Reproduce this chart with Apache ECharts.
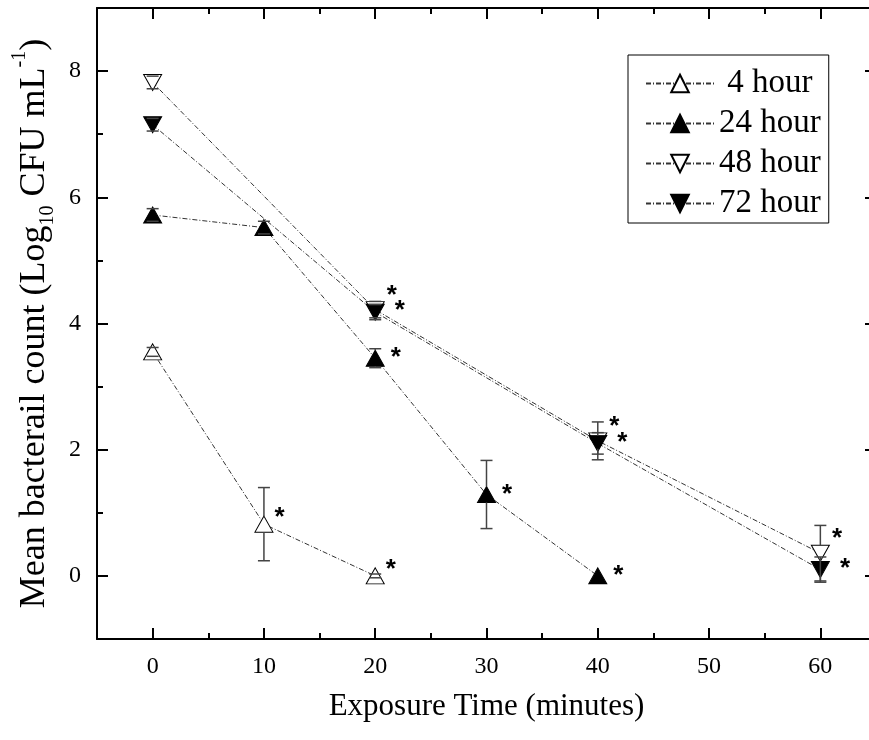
<!DOCTYPE html>
<html>
<head>
<meta charset="utf-8">
<script src="https://cdn.jsdelivr.net/npm/echarts@6/dist/echarts.min.js"></script>
<style>
  html, body { margin: 0; padding: 0; background: #fff; }
  #chart { width: 869px; height: 740px; }
</style>
</head>
<body>
<div id="chart"></div>
<script>
// data (log10 CFU/mL, mean and SD)
const seriesNames = ['4 hour', '24 hour', '48 hour', '72 hour']

const time4h = [0, 10, 20]
const mean4h = [3.55, 0.82, 0.0]
const sd4h = [0.07, 0.58, 0.03]
const sig4h = [false, true, true]

const time24h = [0, 10, 20, 30, 40]
const mean24h = [5.72, 5.52, 3.45, 1.29, 0.0]
const sd24h = [0.1, 0.1, 0.15, 0.54, 0.0]
const sig24h = [false, false, true, true, true]

const time48h = [0, 20, 40, 60]
const mean48h = [7.82, 4.22, 2.14, 0.36]
const sd48h = [0.1, 0.13, 0.3, 0.44]
const sig48h = [false, true, true, true]

const time72h = [0, 20, 40, 60]
const mean72h = [7.15, 4.18, 2.1, 0.1]
const sd72h = [0.1, 0.12, 0.17, 0.2]
const sig72h = [false, true, true, true]

const serif = '"Liberation Serif", "Times New Roman", serif'
const dashDot = [5, 2, 1, 2]
const triUp = 'triangle'
const triDown = 'path://M0,0 L2,0 L1,2 Z'

const renderErrorBar = (params, api) => {
    const x = api.value(0)
    const m = api.value(1)
    const s = api.value(2)
    if (!s) return null
    const c = api.coord([x, m])
    const top = api.coord([x, m + s])
    const bot = api.coord([x, m - s])
    const half = 6
    const gap = 8
    const style = { stroke: '#444', lineWidth: 1.5 }
    const children = [
        { type: 'line', shape: { x1: c[0] - half, y1: top[1], x2: c[0] + half, y2: top[1] }, style },
        { type: 'line', shape: { x1: c[0] - half, y1: bot[1], x2: c[0] + half, y2: bot[1] }, style },
    ]
    if (top[1] < c[1] - gap) {
        children.push({ type: 'line', shape: { x1: c[0], y1: top[1], x2: c[0], y2: c[1] - gap }, style })
    }
    if (bot[1] > c[1] + gap) {
        children.push({ type: 'line', shape: { x1: c[0], y1: c[1] + gap, x2: c[0], y2: bot[1] }, style })
    }
    return { type: 'group', children }
}

const lineSeries = (name, times, means, sig, symbol, fill, labelOffset) => ({
    name: name,
    type: 'line',
    xAxisIndex: 0,
    yAxisIndex: 0,
    data: times.map((t, i) => ({ value: [t, means[i]], label: { show: sig[i] } })),
    symbol: symbol,
    symbolSize: [18, 16],
    showAllSymbol: true,
    itemStyle: { color: fill, borderColor: '#000', borderWidth: 1 },
    lineStyle: { color: '#333', width: 1, type: dashDot },
    label: {
        show: false,
        position: 'right',
        distance: 0,
        offset: labelOffset,
        formatter: '*',
        fontFamily: '"Liberation Sans", Arial, sans-serif',
        fontWeight: 'bold',
        fontSize: 26,
        color: '#000'
    },
    emphasis: { disabled: true },
    z: 2
})

const errorSeries = (times, means, sds) => ({
    type: 'custom',
    xAxisIndex: 0,
    yAxisIndex: 0,
    silent: true,
    z: 3,
    data: times.map((t, i) => [t, means[i], sds[i]]),
    renderItem: renderErrorBar
})

const axisLine = { show: true, onZero: false, lineStyle: { color: '#000', width: 2 } }
const noLine = { show: false, onZero: false }
const tickStyle = { color: '#000', width: 2 }

const xAxisPart = (position, step, tickLen, extra) => Object.assign({
    type: 'value',
    position: position,
    gridIndex: 0,
    min: -5,
    max: 65,
    minInterval: step,
    maxInterval: step,
    axisLine: step === 5 ? noLine : axisLine,
    axisTick: { show: true, inside: true, length: tickLen, lineStyle: tickStyle },
    axisLabel: { show: false },
    splitLine: { show: false }
}, extra || {})

const yAxisPart = (position, step, tickLen, extra) => Object.assign({
    type: 'value',
    position: position,
    gridIndex: 0,
    min: -1,
    max: 9,
    minInterval: step,
    maxInterval: step,
    axisLine: step === 1 ? noLine : axisLine,
    axisTick: { show: true, inside: true, length: tickLen, lineStyle: tickStyle },
    axisLabel: { show: false },
    splitLine: { show: false }
}, extra || {})

const myChart = echarts.init(document.getElementById('chart'), null, { width: 869, height: 740 })

myChart.setOption({
    animation: false,
    backgroundColor: '#fff',
    // the right frame edge sits just past the picture edge, as in the original
    grid: { left: 97, top: 8, width: 779, height: 631, outerBoundsMode: 'none', containLabel: false },
    legend: {
        orient: 'vertical',
        left: 628,
        top: 55,
        padding: [12, 8, 3, 17],
        borderColor: '#000',
        borderWidth: 1,
        itemWidth: 68,
        itemHeight: 22,
        itemGap: 7,
        selectedMode: false,
        data: seriesNames,
        formatter: name => name.padStart(7, ' '),
        textStyle: {
            fontFamily: serif,
            fontSize: 33,
            color: '#000',
            lineHeight: 33
        }
    },
    xAxis: [
        xAxisPart('bottom', 10, 11, {
            axisLabel: {
                show: true,
                margin: 16,
                fontFamily: serif,
                fontSize: 24,
                color: '#000',
                formatter: v => (v % 10 === 0 ? String(v) : '')
            },
            name: 'Exposure Time (minutes)',
            nameLocation: 'middle',
            nameGap: 52,
            nameTextStyle: { fontFamily: serif, fontSize: 31, color: '#000' }
        }),
        xAxisPart('bottom', 5, 6),
        xAxisPart('top', 10, 11),
        xAxisPart('top', 5, 6)
    ],
    yAxis: [
        yAxisPart('left', 2, 11, {
            axisLabel: {
                show: true,
                margin: 16,
                fontFamily: serif,
                fontSize: 24,
                color: '#000',
                formatter: v => (v % 2 === 0 ? String(v) : '')
            },
            name: 'Mean bacterail count (Log{sub|10} CFU mL{sup|-1})',
            nameLocation: 'middle',
            nameGap: 34,
            nameTextStyle: {
                fontFamily: serif,
                fontSize: 36,
                color: '#000',
                lineHeight: 48,
                rich: {
                    sub: { fontFamily: serif, fontSize: 20, color: '#000', verticalAlign: 'bottom', lineHeight: 48 },
                    sup: { fontFamily: serif, fontSize: 20, color: '#000', verticalAlign: 'top', lineHeight: 48 }
                }
            }
        }),
        yAxisPart('left', 1, 6),
        yAxisPart('right', 2, 11),
        yAxisPart('right', 1, 6)
    ],
    series: [
        errorSeries(time4h, mean4h, sd4h),
        errorSeries(time24h, mean24h, sd24h),
        errorSeries(time48h, mean48h, sd48h),
        errorSeries(time72h, mean72h, sd72h),
        lineSeries(seriesNames[0], time4h, mean4h, sig4h, triUp, '#fff', [1, -6]),
        lineSeries(seriesNames[1], time24h, mean24h, sig24h, triUp, '#000', [6, 0]),
        lineSeries(seriesNames[2], time48h, mean48h, sig48h, triDown, '#fff', [2, -14]),
        lineSeries(seriesNames[3], time72h, mean72h, sig72h, triDown, '#000', [10, -1])
    ]
})
</script>
</body>
</html>
